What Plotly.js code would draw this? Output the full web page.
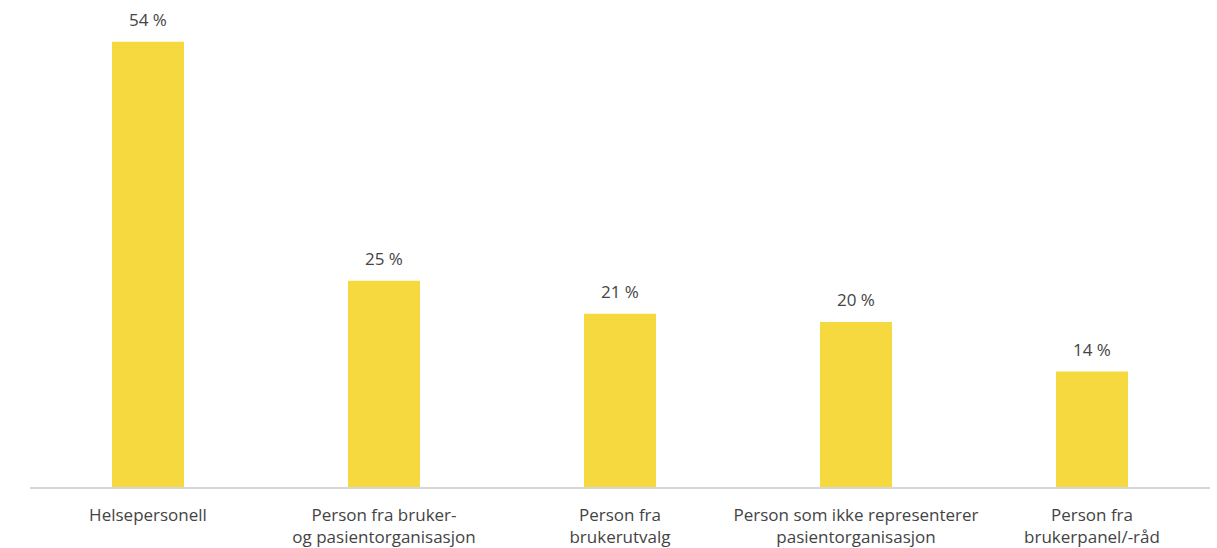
<!DOCTYPE html>
<html>
<head>
<meta charset="utf-8">
<script src="https://cdn.plot.ly/plotly-3.0.1.min.js"></script>
<style>html,body{margin:0;padding:0;background:#fff;}#chart{width:1217px;height:548px;}</style>
</head>
<body>
<div id="chart"></div>
<script>
var categories = ["Helsepersonell", "Person fra bruker-<br>og pasientorganisasjon", "Person fra<br>brukerutvalg", "Person som ikke representerer<br>pasientorganisasjon", "Person fra<br>brukerpanel/-råd"];
var values = [54, 25, 21, 20, 14];
var labels = ["54 %", "25 %", "21 %", "20 %", "14 %"];

var annotations = categories.map(function(c, i){
  return {x: c, y: values[i], text: labels[i], showarrow: false, yanchor: 'bottom', yshift: 9,
    font: {family: '"Open Sans", sans-serif', size: 17, color: '#444'}};
});

Plotly.newPlot('chart', [{
  type: 'bar', x: categories, y: values,
  marker: {color: '#F6D93E'}, hoverinfo: 'none'
}], {
  width: 1217, height: 548,
  margin: {l: 30, r: 7, t: 17, b: 61},
  bargap: 0.695,
  paper_bgcolor: '#fff', plot_bgcolor: '#fff',
  showlegend: false,
  xaxis: {showline: true, linecolor: '#d6d6d6', linewidth: 1.5, ticks: 'outside', ticklen: 12, tickcolor: 'rgba(0,0,0,0)',
    tickfont: {family: '"Open Sans", sans-serif', size: 17, color: '#444'}, fixedrange: true},
  yaxis: {range: [0, 57], visible: false, showgrid: false, zeroline: false, fixedrange: true},
  annotations: annotations
}, {displayModeBar: false, staticPlot: true});
</script>
</body>
</html>
